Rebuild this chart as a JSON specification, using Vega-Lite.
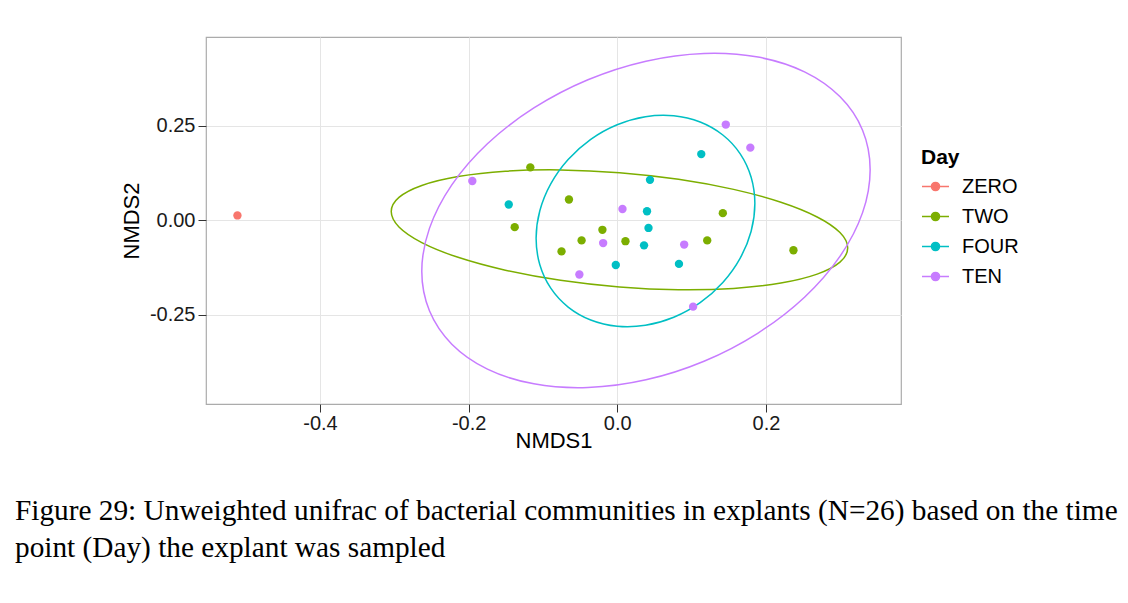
{
  "$schema": "https://vega.github.io/schema/vega-lite/v6.json",
  "width": 695,
  "height": 367,
  "autosize": {"type": "none"},
  "padding": {"left": 206, "top": 37, "right": 227, "bottom": 199},
  "background": "white",
  "config": {
    "view": {"stroke": "#ababab", "strokeWidth": 1.2},
    "font": "Liberation Sans",
    "axis": {
      "domain": false,
      "gridColor": "#e5e5e5",
      "gridWidth": 1,
      "tickColor": "#333333",
      "tickSize": 8,
      "tickWidth": 1,
      "labelFont": "Liberation Sans",
      "labelFontSize": 20,
      "labelColor": "#1a1a1a",
      "labelPadding": 2,
      "titleFont": "Liberation Sans",
      "titleFontSize": 22,
      "titleFontWeight": "normal",
      "titleColor": "#000000"
    }
  },
  "title": {
    "text": ["Figure 29: Unweighted unifrac of bacterial communities in explants (N=26) based on the time", "point (Day) the explant was sampled"],
    "orient": "bottom",
    "anchor": "start",
    "frame": "group",
    "dx": -191,
    "offset": 46,
    "font": "Liberation Serif",
    "fontSize": 29.3,
    "fontWeight": "normal",
    "color": "#000000",
    "lineHeight": 37
  },
  "datasets": {
    "pts": [
      {"Day": "ZERO", "NMDS1": -0.511, "NMDS2": 0.013},
      {"Day": "TWO", "NMDS1": -0.117, "NMDS2": 0.140},
      {"Day": "TWO", "NMDS1": -0.138, "NMDS2": -0.018},
      {"Day": "TWO", "NMDS1": -0.065, "NMDS2": 0.055},
      {"Day": "TWO", "NMDS1": -0.020, "NMDS2": -0.025},
      {"Day": "TWO", "NMDS1": 0.142, "NMDS2": 0.019},
      {"Day": "TWO", "NMDS1": -0.075, "NMDS2": -0.082},
      {"Day": "TWO", "NMDS1": -0.048, "NMDS2": -0.053},
      {"Day": "TWO", "NMDS1": 0.011, "NMDS2": -0.055},
      {"Day": "TWO", "NMDS1": 0.121, "NMDS2": -0.053},
      {"Day": "TWO", "NMDS1": 0.237, "NMDS2": -0.079},
      {"Day": "FOUR", "NMDS1": -0.146, "NMDS2": 0.042},
      {"Day": "FOUR", "NMDS1": 0.113, "NMDS2": 0.175},
      {"Day": "FOUR", "NMDS1": 0.044, "NMDS2": 0.107},
      {"Day": "FOUR", "NMDS1": 0.040, "NMDS2": 0.024},
      {"Day": "FOUR", "NMDS1": 0.042, "NMDS2": -0.020},
      {"Day": "FOUR", "NMDS1": 0.036, "NMDS2": -0.066},
      {"Day": "FOUR", "NMDS1": -0.002, "NMDS2": -0.118},
      {"Day": "FOUR", "NMDS1": 0.083, "NMDS2": -0.115},
      {"Day": "TEN", "NMDS1": -0.195, "NMDS2": 0.104},
      {"Day": "TEN", "NMDS1": 0.146, "NMDS2": 0.253},
      {"Day": "TEN", "NMDS1": 0.179, "NMDS2": 0.192},
      {"Day": "TEN", "NMDS1": 0.007, "NMDS2": 0.030},
      {"Day": "TEN", "NMDS1": -0.019, "NMDS2": -0.060},
      {"Day": "TEN", "NMDS1": 0.090, "NMDS2": -0.064},
      {"Day": "TEN", "NMDS1": -0.051, "NMDS2": -0.143},
      {"Day": "TEN", "NMDS1": 0.102, "NMDS2": -0.228}
    ],
    "ell": [
      {"Day": "TWO", "i": 0, "NMDS1": 0.3100, "NMDS2": -0.0730},
      {"Day": "TWO", "i": 1, "NMDS1": 0.2996, "NMDS2": -0.1105},
      {"Day": "TWO", "i": 2, "NMDS1": 0.2689, "NMDS2": -0.1421},
      {"Day": "TWO", "i": 3, "NMDS1": 0.2201, "NMDS2": -0.1657},
      {"Day": "TWO", "i": 4, "NMDS1": 0.1565, "NMDS2": -0.1798},
      {"Day": "TWO", "i": 5, "NMDS1": 0.0824, "NMDS2": -0.1833},
      {"Day": "TWO", "i": 6, "NMDS1": 0.0030, "NMDS2": -0.1760},
      {"Day": "TWO", "i": 7, "NMDS1": -0.0765, "NMDS2": -0.1584},
      {"Day": "TWO", "i": 8, "NMDS1": -0.1506, "NMDS2": -0.1317},
      {"Day": "TWO", "i": 9, "NMDS1": -0.2142, "NMDS2": -0.0977},
      {"Day": "TWO", "i": 10, "NMDS1": -0.2630, "NMDS2": -0.0588},
      {"Day": "TWO", "i": 11, "NMDS1": -0.2937, "NMDS2": -0.0176},
      {"Day": "TWO", "i": 12, "NMDS1": -0.3041, "NMDS2": 0.0231},
      {"Day": "TWO", "i": 13, "NMDS1": -0.2937, "NMDS2": 0.0606},
      {"Day": "TWO", "i": 14, "NMDS1": -0.2630, "NMDS2": 0.0922},
      {"Day": "TWO", "i": 15, "NMDS1": -0.2142, "NMDS2": 0.1158},
      {"Day": "TWO", "i": 16, "NMDS1": -0.1506, "NMDS2": 0.1299},
      {"Day": "TWO", "i": 17, "NMDS1": -0.0765, "NMDS2": 0.1333},
      {"Day": "TWO", "i": 18, "NMDS1": 0.0030, "NMDS2": 0.1260},
      {"Day": "TWO", "i": 19, "NMDS1": 0.0824, "NMDS2": 0.1085},
      {"Day": "TWO", "i": 20, "NMDS1": 0.1565, "NMDS2": 0.0818},
      {"Day": "TWO", "i": 21, "NMDS1": 0.2201, "NMDS2": 0.0478},
      {"Day": "TWO", "i": 22, "NMDS1": 0.2689, "NMDS2": 0.0089},
      {"Day": "TWO", "i": 23, "NMDS1": 0.2996, "NMDS2": -0.0323},
      {"Day": "FOUR", "i": 0, "NMDS1": 0.1851, "NMDS2": 0.0442},
      {"Day": "FOUR", "i": 1, "NMDS1": 0.1801, "NMDS2": -0.0287},
      {"Day": "FOUR", "i": 2, "NMDS1": 0.1654, "NMDS2": -0.0997},
      {"Day": "FOUR", "i": 3, "NMDS1": 0.1420, "NMDS2": -0.1641},
      {"Day": "FOUR", "i": 4, "NMDS1": 0.1115, "NMDS2": -0.2174},
      {"Day": "FOUR", "i": 5, "NMDS1": 0.0760, "NMDS2": -0.2560},
      {"Day": "FOUR", "i": 6, "NMDS1": 0.0379, "NMDS2": -0.2772},
      {"Day": "FOUR", "i": 7, "NMDS1": -0.0002, "NMDS2": -0.2797},
      {"Day": "FOUR", "i": 8, "NMDS1": -0.0357, "NMDS2": -0.2632},
      {"Day": "FOUR", "i": 9, "NMDS1": -0.0661, "NMDS2": -0.2290},
      {"Day": "FOUR", "i": 10, "NMDS1": -0.0895, "NMDS2": -0.1792},
      {"Day": "FOUR", "i": 11, "NMDS1": -0.1042, "NMDS2": -0.1173},
      {"Day": "FOUR", "i": 12, "NMDS1": -0.1092, "NMDS2": -0.0476},
      {"Day": "FOUR", "i": 13, "NMDS1": -0.1042, "NMDS2": 0.0253},
      {"Day": "FOUR", "i": 14, "NMDS1": -0.0895, "NMDS2": 0.0963},
      {"Day": "FOUR", "i": 15, "NMDS1": -0.0661, "NMDS2": 0.1606},
      {"Day": "FOUR", "i": 16, "NMDS1": -0.0357, "NMDS2": 0.2139},
      {"Day": "FOUR", "i": 17, "NMDS1": -0.0002, "NMDS2": 0.2525},
      {"Day": "FOUR", "i": 18, "NMDS1": 0.0379, "NMDS2": 0.2738},
      {"Day": "FOUR", "i": 19, "NMDS1": 0.0760, "NMDS2": 0.2763},
      {"Day": "FOUR", "i": 20, "NMDS1": 0.1115, "NMDS2": 0.2598},
      {"Day": "FOUR", "i": 21, "NMDS1": 0.1420, "NMDS2": 0.2255},
      {"Day": "FOUR", "i": 22, "NMDS1": 0.1654, "NMDS2": 0.1758},
      {"Day": "FOUR", "i": 23, "NMDS1": 0.1801, "NMDS2": 0.1139},
      {"Day": "TEN", "i": 0, "NMDS1": 0.3402, "NMDS2": 0.1339},
      {"Day": "TEN", "i": 1, "NMDS1": 0.3300, "NMDS2": 0.0204},
      {"Day": "TEN", "i": 2, "NMDS1": 0.2998, "NMDS2": -0.0945},
      {"Day": "TEN", "i": 3, "NMDS1": 0.2519, "NMDS2": -0.2030},
      {"Day": "TEN", "i": 4, "NMDS1": 0.1894, "NMDS2": -0.2976},
      {"Day": "TEN", "i": 5, "NMDS1": 0.1167, "NMDS2": -0.3721},
      {"Day": "TEN", "i": 6, "NMDS1": 0.0386, "NMDS2": -0.4212},
      {"Day": "TEN", "i": 7, "NMDS1": -0.0395, "NMDS2": -0.4416},
      {"Day": "TEN", "i": 8, "NMDS1": -0.1122, "NMDS2": -0.4319},
      {"Day": "TEN", "i": 9, "NMDS1": -0.1747, "NMDS2": -0.3929},
      {"Day": "TEN", "i": 10, "NMDS1": -0.2226, "NMDS2": -0.3271},
      {"Day": "TEN", "i": 11, "NMDS1": -0.2527, "NMDS2": -0.2390},
      {"Day": "TEN", "i": 12, "NMDS1": -0.2630, "NMDS2": -0.1347},
      {"Day": "TEN", "i": 13, "NMDS1": -0.2527, "NMDS2": -0.0212},
      {"Day": "TEN", "i": 14, "NMDS1": -0.2226, "NMDS2": 0.0937},
      {"Day": "TEN", "i": 15, "NMDS1": -0.1747, "NMDS2": 0.2022},
      {"Day": "TEN", "i": 16, "NMDS1": -0.1122, "NMDS2": 0.2968},
      {"Day": "TEN", "i": 17, "NMDS1": -0.0395, "NMDS2": 0.3713},
      {"Day": "TEN", "i": 18, "NMDS1": 0.0386, "NMDS2": 0.4204},
      {"Day": "TEN", "i": 19, "NMDS1": 0.1167, "NMDS2": 0.4408},
      {"Day": "TEN", "i": 20, "NMDS1": 0.1894, "NMDS2": 0.4312},
      {"Day": "TEN", "i": 21, "NMDS1": 0.2519, "NMDS2": 0.3922},
      {"Day": "TEN", "i": 22, "NMDS1": 0.2998, "NMDS2": 0.3263},
      {"Day": "TEN", "i": 23, "NMDS1": 0.3300, "NMDS2": 0.2382}
    ]
  },
  "layer": [
    {
      "data": {"name": "ell"},
      "mark": {"type": "line", "interpolate": "cardinal-closed", "strokeWidth": 1.5},
      "encoding": {
        "x": {
          "field": "NMDS1", "type": "quantitative",
          "scale": {"domain": [-0.5533, 0.3817], "nice": false, "zero": false},
          "axis": {
            "values": [-0.4, -0.2, 0, 0.2],
            "labelExpr": "datum.value < 0 ? '-' + format(-datum.value, '.1f') : format(datum.value, '.1f')",
            "title": "NMDS1",
            "labelPadding": 1,
            "titlePadding": -3
          }
        },
        "y": {
          "field": "NMDS2", "type": "quantitative",
          "scale": {"domain": [-0.4851, 0.4843], "nice": false, "zero": false},
          "axis": {
            "values": [-0.25, 0, 0.25],
            "labelExpr": "datum.value < 0 ? '-' + format(-datum.value, '.2f') : format(datum.value, '.2f')",
            "title": "NMDS2",
            "labelPadding": 3,
            "titlePadding": 6
          }
        },
        "color": {
          "field": "Day", "type": "nominal",
          "scale": {"domain": ["ZERO", "TWO", "FOUR", "TEN"], "range": ["#F8766D", "#7CAE00", "#00BFC4", "#C77CFF"]},
          "legend": {
            "title": "Day",
            "orient": "none",
            "legendX": 715,
            "legendY": 110,
            "padding": 0,
            "titleFont": "Liberation Sans",
            "titleFontSize": 21,
            "titleFontWeight": "bold",
            "titleColor": "#000000",
            "titlePadding": 4,
            "labelFont": "Liberation Sans",
            "labelFontSize": 20,
            "labelColor": "#000000",
            "labelOffset": 12,
            "symbolType": "M-1,0L1,0M0.3,0A0.3,0.3,0,1,1,-0.3,0A0.3,0.3,0,1,1,0.3,0Z",
            "symbolSize": 729,
            "symbolStrokeWidth": 1.5,
            "rowPadding": 5,
            "encode": {
              "symbols": {
                "update": {
                  "fill": {"scale": "color", "field": "value"},
                  "stroke": {"scale": "color", "field": "value"},
                  "opacity": {"value": 1}
                }
              }
            }
          }
        },
        "order": {"field": "i", "type": "quantitative"}
      }
    },
    {
      "data": {"name": "pts"},
      "mark": {"type": "point", "filled": true, "size": 70, "opacity": 1},
      "encoding": {
        "x": {
          "field": "NMDS1", "type": "quantitative",
          "axis": {"orient": "top", "values": [-0.5, -0.3, -0.1, 0.1, 0.3], "labels": false, "ticks": false, "domain": false, "title": null, "gridColor": "#f3f3f3"}
        },
        "y": {
          "field": "NMDS2", "type": "quantitative",
          "axis": {"orient": "right", "values": [-0.375, -0.125, 0.125, 0.375], "labels": false, "ticks": false, "domain": false, "title": null, "gridColor": "#f3f3f3"}
        },
        "color": {"field": "Day", "type": "nominal"}
      }
    }
  ],
  "resolve": {"axis": {"x": "independent", "y": "independent"}}
}
